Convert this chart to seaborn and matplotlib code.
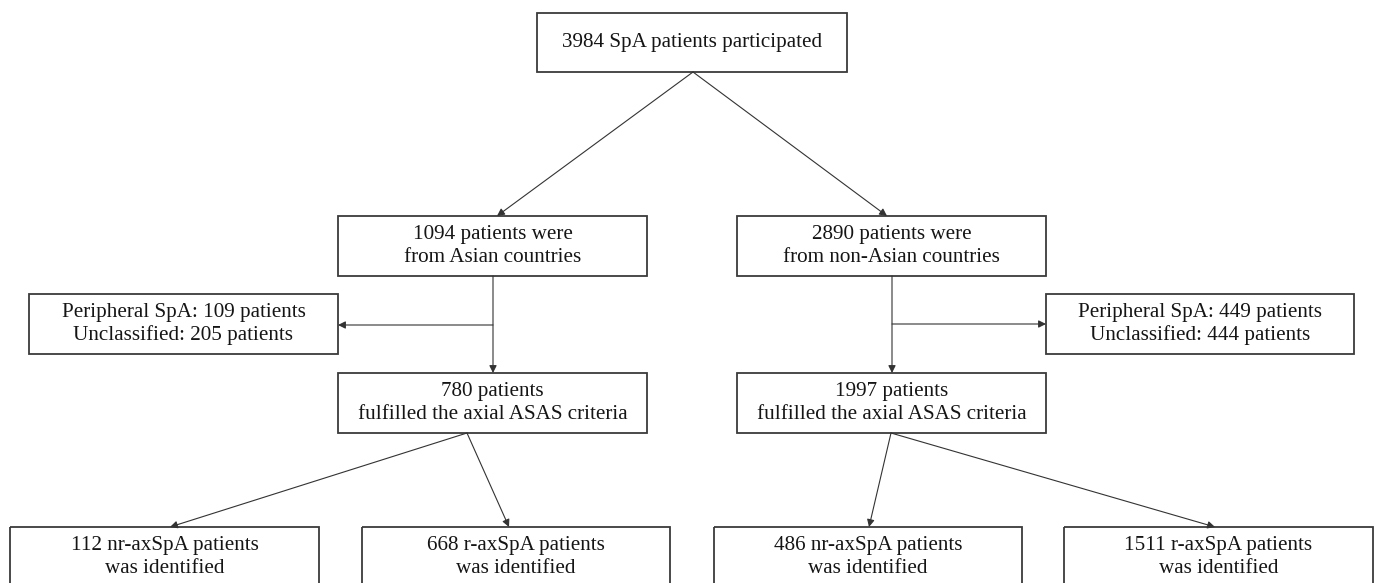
import matplotlib.pyplot as plt
import seaborn as sns
from matplotlib.patches import Rectangle

# --- counts shown in the flow chart ---
total_n = 3984
region_names = ["Asian", "non-Asian"]
region_n = [1094, 2890]
peripheral_n = [109, 449]
unclassified_n = [205, 444]
axial_n = [780, 1997]
nr_axspa_n = [112, 486]
r_axspa_n = [668, 1511]

# --- layout (pixels, y grows downward) : x0, x1, y0, y1 ---
W, H = 1375, 583
top_box = (537, 847, 13, 72)
region_boxes = [(338, 647, 216, 276), (737, 1046, 216, 276)]
excl_boxes = [(29, 338, 294, 354), (1046, 1354, 294, 354)]
axial_boxes = [(338, 647, 373, 433), (737, 1046, 373, 433)]
bottom_boxes = [(10, 319, 527, 620), (362, 670, 527, 620),
                (714, 1022, 527, 620), (1064, 1373, 527, 620)]

sns.set_theme(style="white")
plt.rcParams["font.family"] = ["Liberation Serif", "DejaVu Serif"]

fig = plt.figure(figsize=(W / 100, H / 100), dpi=100)
ax = fig.add_axes([0, 0, 1, 1])
ax.set_xlim(0, W)
ax.set_ylim(H, 0)
ax.axis("off")

FS = 15.2
EDGE = "#3a3a3a"
LINE = "#555555"


def box(b, lines, ty=None):
    x0, x1, y0, y1 = b
    ax.add_patch(Rectangle((x0, y0), x1 - x0, y1 - y0, fill=False,
                           ec=EDGE, lw=1.3, zorder=2))
    cy = (y0 + y1) / 2 if ty is None else ty
    ax.text((x0 + x1) / 2, cy, "\n".join(lines), ha="center", va="center",
            fontsize=FS, color="#151515", linespacing=1.22, zorder=3)


def arrow(p0, p1):
    ax.annotate("", xy=p1, xytext=p0,
                arrowprops=dict(arrowstyle="-|>", color="#333333", lw=0.8,
                                mutation_scale=11, shrinkA=0, shrinkB=0))


box(top_box, [f"{total_n} SpA patients participated"])

for i in range(2):
    box(region_boxes[i], [f"{region_n[i]} patients were",
                          f"from {region_names[i]} countries"])
    box(excl_boxes[i], [f"Peripheral SpA: {peripheral_n[i]} patients",
                        f"Unclassified: {unclassified_n[i]} patients"])
    box(axial_boxes[i], [f"{axial_n[i]} patients",
                         "fulfilled the axial ASAS criteria"])

bottom_counts = [nr_axspa_n[0], r_axspa_n[0], nr_axspa_n[1], r_axspa_n[1]]
bottom_kind = ["nr-axSpA", "r-axSpA", "nr-axSpA", "r-axSpA"]
for b, n, k in zip(bottom_boxes, bottom_counts, bottom_kind):
    box(b, [f"{n} {k} patients", "was identified"], ty=557)

# top split
arrow((693, 72), (497, 216))
arrow((693, 72), (887, 216))

# Asian branch
arrow((493, 276), (493, 373))
arrow((493, 325), (338, 325))
# non-Asian branch
arrow((892, 276), (892, 373))
arrow((892, 324), (1046, 324))

# axial -> subtypes
arrow((467, 433), (170, 527))
arrow((467, 433), (509, 527))
arrow((891, 433), (869, 527))
arrow((891, 433), (1215, 527))

fig.savefig("out.png", dpi=100, facecolor="white")
